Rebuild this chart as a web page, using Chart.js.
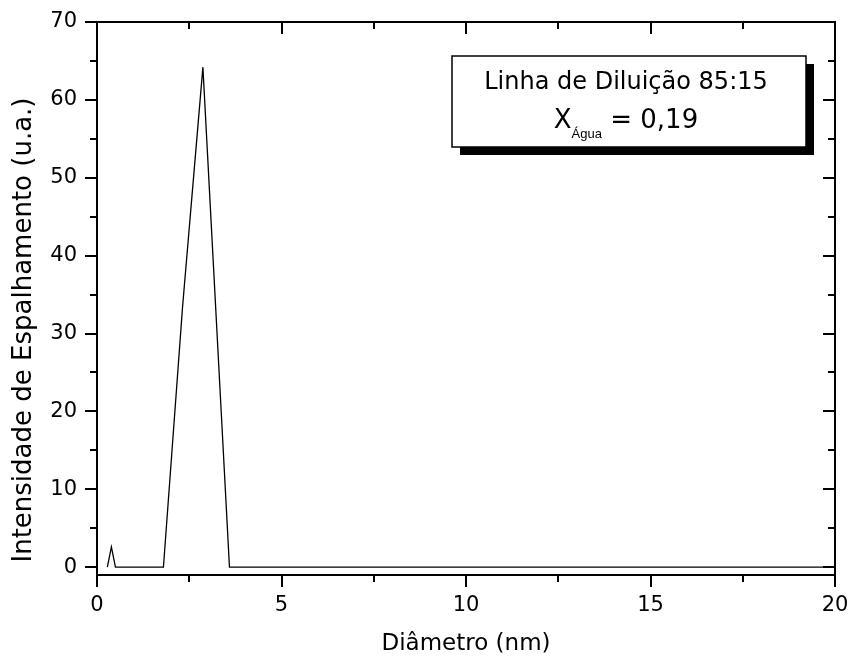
<!DOCTYPE html>
<html><head><meta charset="utf-8">
<script src="https://cdn.jsdelivr.net/npm/chart.js@4/dist/chart.umd.min.js"></script>
<style>html,body{margin:0;padding:0;background:#fff}</style>
</head><body>
<canvas id="c" width="850" height="662"></canvas>
<script>
// ---- data ----
const diameters   = [0.28, 0.39, 0.50, 1.80, 2.32, 2.87, 3.59, 20];
const intensities = [0,    2.6,  0,    0,    33.5, 64.2, 0,    0];
const xTicks = [0, 5, 10, 15, 20];
const yTicks = [0, 10, 20, 30, 40, 50, 60, 70];
const xMinorTicks = [2.5, 7.5, 12.5, 17.5];
const yMinorTicks = [5, 15, 25, 35, 45, 55, 65];
const xTitle = 'Diâmetro (nm)';
const yTitle = 'Intensidade de Espalhamento (u.a.)';
const boxLine1 = 'Linha de Diluição 85:15';
const boxSymbol = 'X';
const boxSub = 'Água';
const boxValue = ' = 0,19';

const FONT = "'DejaVu Sans', sans-serif";

const framePlugin = {
  id: 'frame',
  afterDraw(chart) {
    const {ctx, chartArea: a, scales: {x, y}} = chart;
    ctx.save();
    ctx.strokeStyle = '#000';
    ctx.lineWidth = 2;
    ctx.strokeRect(a.left, a.top, a.right - a.left, a.bottom - a.top);
    ctx.beginPath();
    const major = 12, minor = 7;
    xTicks.forEach(v => {
      const px = Math.round(x.getPixelForValue(v));
      ctx.moveTo(px, a.bottom); ctx.lineTo(px, a.bottom + major);
      ctx.moveTo(px, a.top); ctx.lineTo(px, a.top + major);
    });
    xMinorTicks.forEach(v => {
      const px = Math.round(x.getPixelForValue(v));
      ctx.moveTo(px, a.bottom); ctx.lineTo(px, a.bottom + minor);
      ctx.moveTo(px, a.top); ctx.lineTo(px, a.top + minor);
    });
    yTicks.forEach(v => {
      const py = Math.round(y.getPixelForValue(v));
      ctx.moveTo(a.left, py); ctx.lineTo(a.left - major, py);
      ctx.moveTo(a.right, py); ctx.lineTo(a.right - major, py);
    });
    yMinorTicks.forEach(v => {
      const py = Math.round(y.getPixelForValue(v));
      ctx.moveTo(a.left, py); ctx.lineTo(a.left - minor, py);
      ctx.moveTo(a.right, py); ctx.lineTo(a.right - minor, py);
    });
    ctx.stroke();

    // y-axis title
    ctx.save();
    ctx.translate(24, 330);
    ctx.rotate(-Math.PI / 2);
    ctx.fillStyle = '#000';
    ctx.textAlign = 'center';
    ctx.textBaseline = 'middle';
    ctx.font = "26px " + FONT;
    ctx.fillText(yTitle, 0, 0);
    ctx.restore();

    // annotation box
    const bx = 452, by = 56, bw = 354, bh = 91, sh = 8;
    ctx.fillStyle = '#000';
    ctx.fillRect(bx + sh, by + sh, bw, bh);
    ctx.fillStyle = '#fff';
    ctx.fillRect(bx, by, bw, bh);
    ctx.lineWidth = 1.5;
    ctx.strokeRect(bx, by, bw, bh);
    ctx.fillStyle = '#000';
    ctx.textBaseline = 'alphabetic';
    ctx.textAlign = 'center';
    ctx.font = "24px " + FONT;
    ctx.fillText(boxLine1, 626, 89);
    ctx.textAlign = 'left';
    const bigF = "26px " + FONT, smallF = "13px 'Liberation Sans', sans-serif";
    ctx.font = bigF; const w1 = ctx.measureText(boxSymbol).width;
    const w3 = ctx.measureText(boxValue).width;
    ctx.font = smallF; const w2 = ctx.measureText(boxSub).width;
    let sx = 626 - (w1 + w2 + w3) / 2;
    ctx.font = bigF; ctx.fillText(boxSymbol, sx, 128); sx += w1;
    ctx.font = smallF; ctx.fillText(boxSub, sx, 138); sx += w2;
    ctx.font = bigF; ctx.fillText(boxValue, sx, 128);
    ctx.restore();
  }
};

new Chart(document.getElementById('c'), {
  type: 'line',
  data: {
    datasets: [{
      data: diameters.map((d, i) => ({x: d, y: intensities[i]})),
      borderColor: '#000',
      borderWidth: 1.3,
      pointRadius: 0,
      tension: 0,
      fill: false
    }]
  },
  options: {
    responsive: false,
    devicePixelRatio: 1,
    animation: false,
    layout: {padding: {left: 0, top: 22, right: 15, bottom: 0}},
    plugins: {legend: {display: false}, tooltip: {enabled: false}},
    scales: {
      x: {
        type: 'linear', min: 0, max: 20,
        afterBuildTicks: s => { s.ticks = xTicks.map(v => ({value: v})); },
        afterFit: s => { s.height = 87; s.paddingLeft = 0; s.paddingRight = 0; s.paddingTop = 0; s.paddingBottom = 0; },
        grid: {display: false, drawTicks: false},
        border: {display: false},
        ticks: {color: '#000', padding: 18, font: {family: FONT, size: 21}, maxRotation: 0},
        title: {display: true, text: xTitle, color: '#000', font: {family: FONT, size: 23}, padding: {top: 0, bottom: 4}}
      },
      y: {
        type: 'linear', min: -1, max: 70,
        afterBuildTicks: s => { s.ticks = yTicks.map(v => ({value: v})); },
        afterFit: s => { s.width = 97; s.paddingLeft = 0; s.paddingRight = 0; s.paddingTop = 0; s.paddingBottom = 0; },
        grid: {display: false, drawTicks: false},
        border: {display: false},
        ticks: {color: '#000', padding: 20, font: {family: FONT, size: 21}},
        title: {display: false}
      }
    }
  },
  plugins: [framePlugin]
});
</script>
</body></html>
